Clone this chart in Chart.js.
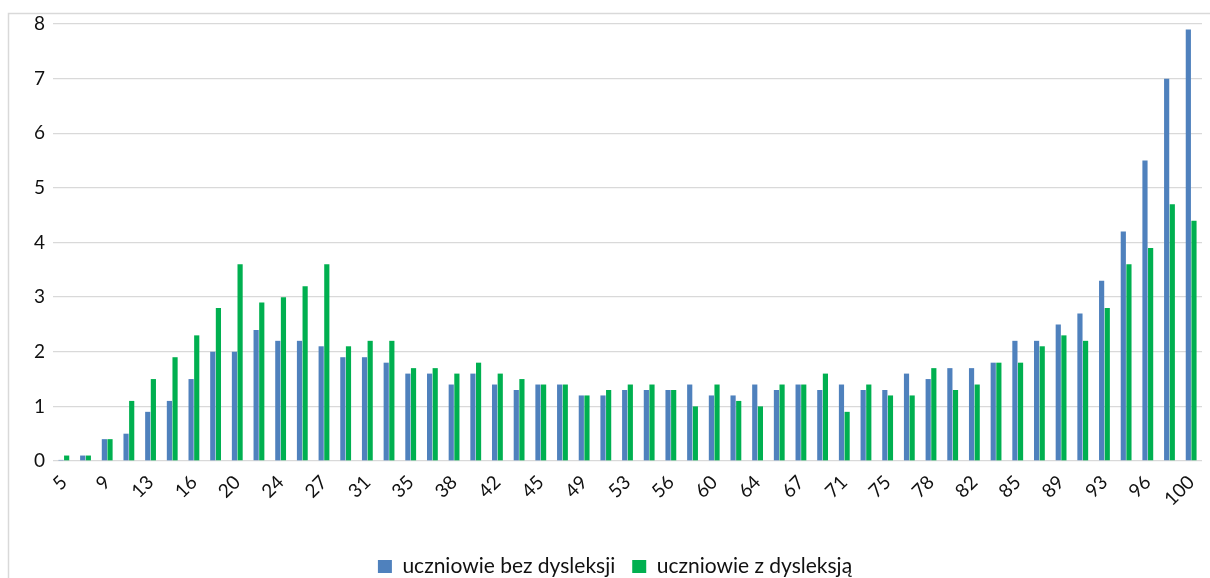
<!DOCTYPE html>
<html>
<head>
<meta charset="utf-8">
<script src="https://cdn.jsdelivr.net/npm/chart.js@4"></script>
<style>
  html, body { margin: 0; padding: 0; background: #fff; overflow: hidden; }
  #wrap { position: relative; width: 1210px; height: 587px; }
</style>
</head>
<body>
<div id="wrap"><canvas id="myChart"></canvas></div>
<script>
// wynik w procentach
const categories = [
  "5", "7", "9", "11", "13", "15", "16", "18", "20", "22", "24", "25", "27", "29",
  "31", "33", "35", "36", "38", "40", "42", "44", "45", "47", "49", "51", "53", "55",
  "56", "58", "60", "62", "64", "65", "67", "69", "71", "73", "75", "76", "78", "80",
  "82", "84", "85", "87", "89", "91", "93", "95", "96", "98", "100"
];

const bezDysleksji = [
  0.02, 0.1, 0.4, 0.5, 0.9, 1.1, 1.5, 2.0, 2.0, 2.4, 2.2, 2.2, 2.1, 1.9,
  1.9, 1.8, 1.6, 1.6, 1.4, 1.6, 1.4, 1.3, 1.4, 1.4, 1.2, 1.2, 1.3, 1.3,
  1.3, 1.4, 1.2, 1.2, 1.4, 1.3, 1.4, 1.3, 1.4, 1.3, 1.3, 1.6, 1.5, 1.7,
  1.7, 1.8, 2.2, 2.2, 2.5, 2.7, 3.3, 4.2, 5.5, 7.0, 7.9
];

const zDysleksja = [
  0.1, 0.1, 0.4, 1.1, 1.5, 1.9, 2.3, 2.8, 3.6, 2.9, 3.0, 3.2, 3.6, 2.1,
  2.2, 2.2, 1.7, 1.7, 1.6, 1.8, 1.6, 1.5, 1.4, 1.4, 1.2, 1.3, 1.4, 1.4,
  1.3, 1.0, 1.4, 1.1, 1.0, 1.4, 1.4, 1.6, 0.9, 1.4, 1.2, 1.2, 1.7, 1.3,
  1.4, 1.8, 1.8, 2.1, 2.3, 2.2, 2.8, 3.6, 3.9, 4.7, 4.4
];

const yTicks = [0, 1, 2, 3, 4, 5, 6, 7, 8];

// ramka wykresu (jak w Excelu)
const frame = {
  id: "frame",
  beforeDraw(chart) {
    const ctx = chart.ctx;
    ctx.save();
    ctx.strokeStyle = "#d9d9d9";
    ctx.lineWidth = 1.5;
    ctx.strokeRect(8.5, 13.5, 1400, 800);
    ctx.restore();
  },
  afterLayout(chart) {
    // legenda troche w prawo
    chart.legend.left += 14;
    chart.legend.right += 14;
  }
};

const ctx = document.getElementById("myChart");
const myChart = new Chart(ctx, {
  type: "bar",
  data: {
    labels: categories,
    datasets: [
      {
        label: "uczniowie bez dysleksji",
        data: bezDysleksji,
        backgroundColor: "#4f81bd",
        borderWidth: 0,
        categoryPercentage: 0.52,
        barPercentage: 0.92,
      },
      {
        label: "uczniowie z dysleksją",
        data: zDysleksja,
        backgroundColor: "#00b050",
        borderWidth: 0,
        categoryPercentage: 0.52,
        barPercentage: 0.92,
      },
    ],
  },
  options: {
    responsive: true,
    maintainAspectRatio: false,
    animation: false,
    layout: { padding: { top: 24, left: 0, right: 8, bottom: 0 } },
    plugins: {
      tooltip: { enabled: false },
      legend: {
        position: "bottom",
        labels: {
          font: { family: "Lato", size: 21 },
          color: "#111",
          boxWidth: 14,
          boxHeight: 13,
          padding: 17,
        },
      },
    },
    scales: {
      x: {
        grid: { display: false, drawTicks: false },
        border: { display: false },
        afterFit: (axis) => {
          axis.height = 78;
          axis.paddingLeft = 0;
          axis.paddingRight = 0;
        },
        ticks: {
          autoSkip: false,
          maxRotation: 45,
          minRotation: 45,
          padding: 10,
          color: "#111",
          font: { family: "Lato", size: 19 },
          callback: function (value, index) {
            return index % 2 === 0 ? categories[index] : "";
          },
        },
      },
      y: {
        min: yTicks[0],
        max: yTicks[yTicks.length - 1],
        afterFit: (axis) => { axis.width = 53; },
        afterBuildTicks: (axis) => { axis.ticks = yTicks.map((v) => ({ value: v })); },
        grid: { color: "#d9d9d9", lineWidth: 1.3, drawTicks: false },
        border: { display: false },
        ticks: {
          padding: 8,
          color: "#111",
          font: { family: "Lato", size: 19 },
        },
      },
    },
  },
  plugins: [frame],
});
</script>
</body>
</html>
